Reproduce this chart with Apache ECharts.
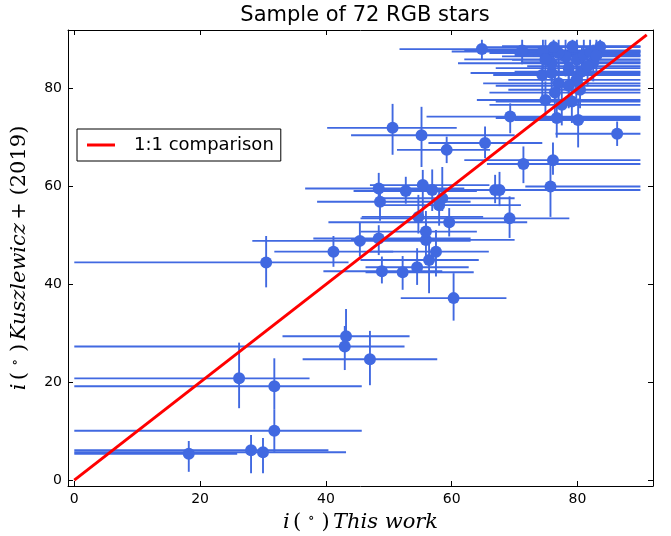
<!DOCTYPE html>
<html>
<head>
<meta charset="utf-8">
<script src="https://cdn.jsdelivr.net/npm/echarts@6/dist/echarts.min.js"></script>
<style>html,body{margin:0;padding:0;background:#fff}#c{width:671px;height:536px}</style>
</head>
<body>
<div id="c"></div>
<script>
// Inclination from this work (x) vs Kuszlewicz+ (2019) (y), degrees
const xVals = [18.2,28.1,30.0,31.8,31.8,26.2,43.0,43.2,47.0,30.5,41.2,60.3,48.9,52.2,54.5,56.4,57.5,45.4,48.4,55.9,55.9,54.7,59.6,48.6,48.4,52.7,55.4,56.9,58.5,58.0,50.6,55.2,59.2,65.3,66.9,67.6,69.2,71.4,76.1,75.7,86.3,69.3,76.7,80.1,64.8,71.2,74.5,83.6,74.9,77.5,79.1,80.4,77.0,74.4,75.9,80.7,75.9,78.1,79.9,81.0,77.0,76.2,78.6,82.0,82.5,79.2,79.8,81.6,74.9,76.4,78.6,83.0];
const yVals = [5.4,6.1,5.7,10.1,19.2,20.8,27.3,29.4,24.7,44.5,46.7,37.2,42.7,42.5,43.5,45.0,46.7,48.9,49.4,49.1,50.8,53.8,52.7,56.9,59.6,59.1,60.3,59.3,57.6,56.2,72.0,70.5,67.5,68.9,59.3,59.3,53.5,64.6,65.4,60.0,70.8,74.3,74.0,73.6,88.1,87.8,87.6,88.6,77.7,76.7,77.4,79.8,81.1,82.8,83.2,83.5,85.2,86.6,85.9,86.9,87.3,88.5,84.2,87.6,85.4,88.7,81.8,84.6,86.0,79.2,80.6,86.8];
const xLow  = [0,0,0,0,0,0,0,33.1,36.3,0,31.8,51.9,39.6,46.3,46.3,45.5,47.0,28.3,38.0,44.0,45.5,45.7,40.4,38.6,36.7,44.4,47.0,48.0,49.0,48.0,40.2,44.0,51.3,56.3,55.0,58.0,45.5,65.6,62.0,71.7,76.5,56.0,67.0,70.0,51.7,62.0,60.0,74.0,64.0,66.0,67.0,69.0,65.0,66.6,63.0,70.0,61.0,68.0,69.6,70.0,66.0,64.0,67.0,72.0,71.0,68.0,69.0,72.0,62.0,66.0,67.0,73.0];
const xHigh = [25.9,40.4,43.2,45.7,45.7,37.4,52.5,53.3,57.7,43.6,50.7,68.7,58.5,63.5,62.7,64.3,65.9,63.0,63.0,70.0,64.0,65.0,72.0,63.0,62.0,64.0,66.0,68.0,70.0,71.0,60.8,70.0,66.1,74.4,80.0,90,78.7,90,90,90,90,90,90,90,77.0,90,90,90,90,90,90,90,90,90,90,90,90,90,90,90,90,90,90,90,90,90,90,90,90,90,90,90];
const yLow  = [1.7,1.4,1.4,5.8,14.5,14.7,22.5,27.0,19.4,39.4,43.6,32.6,40.2,38.9,39.9,38.2,41.6,45.7,46.0,45.4,48.0,50.4,49.8,53.0,56.6,56.5,53.8,55.0,55.0,52.0,66.5,64.0,64.8,65.8,56.6,56.0,49.5,60.7,62.4,53.8,68.3,70.9,70.0,68.0,86.0,85.0,84.0,87.0,74.0,72.5,73.0,76.0,77.0,78.0,79.0,79.5,81.0,82.5,82.0,83.0,83.5,85.5,80.0,84.0,81.5,86.0,78.0,80.5,82.0,75.0,76.0,83.0];
const yHigh = [8.0,9.2,8.6,14.5,24.9,28.1,31.5,35.0,30.5,49.9,49.9,42.3,45.7,45.8,47.4,48.4,51.1,52.6,52.1,52.8,55.0,58.3,55.6,60.5,62.8,62.0,63.4,63.5,64.0,59.0,76.9,76.3,70.2,72.3,62.4,63.0,58.0,68.2,69.0,66.1,73.3,77.0,78.0,78.0,90,90,90,90,81.5,80.5,82.0,84.0,85.0,88.0,88.0,88.5,89.5,90,90,90,90,90,88.0,90,89.0,90,86.0,88.5,90,83.0,85.0,90];
const lineX = [0, 91];
const lineY = [0, 91];
const tickVals = [0, 20, 40, 60, 80];

const blue = '#4169E1';
const errData = xVals.map((x, i) => [x, yVals[i], xLow[i], xHigh[i], yLow[i], yHigh[i]]);
const ptData = xVals.map((x, i) => [x, yVals[i]]);
const lineData = lineX.map((x, i) => [x, lineY[i]]);

const serif = 'DejaVu Serif';
const rich = {
  it: {fontFamily: serif, fontStyle: 'italic', fontSize: 21, color: '#000'},
  up: {fontFamily: serif, fontSize: 21, color: '#000'},
  sup: {fontFamily: serif, fontSize: 14, color: '#000', verticalAlign: 'top', padding: [0, 0, 9, 0]}
};

const chart = echarts.init(document.getElementById('c'), null, {renderer: 'canvas'});
const axCommon = {
  type: 'value',
  axisLine: {show: true, onZero: false, lineStyle: {color: '#000', width: 1}},
  splitLine: {show: false}
};
chart.setOption({
  animation: false,
  backgroundColor: '#fff',
  title: {
    text: 'Sample of 72 RGB stars',
    left: 360, top: 0, textAlign: 'center',
    textStyle: {fontFamily: 'DejaVu Sans', fontSize: 21, fontWeight: 'normal', color: '#000'}
  },
  legend: {
    data: [{name: '1:1 comparison', icon: 'rect'}],
    left: 77, top: 129,
    orient: 'vertical',
    borderColor: '#000', borderWidth: 1, borderRadius: 0,
    padding: [7, 7, 7, 10],
    itemWidth: 28, itemHeight: 3,
    itemStyle: {color: '#ff0000'},
    textStyle: {fontFamily: 'DejaVu Sans', fontSize: 18, color: '#000', padding: [0, 0, 0, 14]}
  },
  grid: {left: 68, right: 18, top: 30, bottom: 50, outerBoundsMode: 'none', containLabel: false},
  xAxis: [
    Object.assign({}, axCommon, {
      min: -1, max: 92, position: 'bottom',
      axisTick: {show: true, inside: true, length: 5, customValues: tickVals, lineStyle: {color: '#000'}},
      axisLabel: {show: true, customValues: tickVals, fontFamily: 'DejaVu Sans', fontSize: 14, color: '#000', margin: 6},
      name: '{it|i} {up|( }{sup|∘}{up| )} {it|This work}',
      nameLocation: 'middle', nameGap: 25,
      nameTextStyle: {rich: rich}
    }),
    Object.assign({}, axCommon, {
      min: -1, max: 92, position: 'top',
      axisTick: {show: true, inside: true, length: 5, customValues: tickVals, lineStyle: {color: '#000'}},
      axisLabel: {show: false}
    })
  ],
  yAxis: [
    Object.assign({}, axCommon, {
      min: -1.2, max: 92, position: 'left',
      axisTick: {show: true, inside: true, length: 5, customValues: tickVals, lineStyle: {color: '#000'}},
      axisLabel: {show: true, customValues: tickVals, fontFamily: 'DejaVu Sans', fontSize: 14, color: '#000', margin: 6},
      name: '{it|i} {up|( }{sup|∘}{up| )} {it|Kuszlewicz} {up|+ (2019)}',
      nameLocation: 'middle', nameGap: 37,
      nameTextStyle: {rich: rich}
    }),
    Object.assign({}, axCommon, {
      min: -1.2, max: 92, position: 'right',
      axisTick: {show: true, inside: true, length: 5, customValues: tickVals, lineStyle: {color: '#000'}},
      axisLabel: {show: false}
    })
  ],
  series: [
    {
      type: 'custom',
      name: 'errors',
      xAxisIndex: 0, yAxisIndex: 0,
      data: errData,
      encode: {x: [0, 2, 3], y: [1, 4, 5]},
      z: 2,
      renderItem: function (params, api) {
        const x = api.value(0), y = api.value(1);
        const a = api.coord([api.value(2), y]);
        const b = api.coord([api.value(3), y]);
        const c = api.coord([x, api.value(4)]);
        const d = api.coord([x, api.value(5)]);
        const st = {stroke: blue, lineWidth: 1.9};
        return {
          type: 'group',
          children: [
            {type: 'line', shape: {x1: a[0], y1: a[1], x2: b[0], y2: b[1]}, style: st},
            {type: 'line', shape: {x1: c[0], y1: c[1], x2: d[0], y2: d[1]}, style: st}
          ]
        };
      }
    },
    {
      type: 'scatter',
      name: 'stars',
      xAxisIndex: 0, yAxisIndex: 0,
      data: ptData,
      symbol: 'circle', symbolSize: 12,
      itemStyle: {color: blue, opacity: 1},
      z: 3
    },
    {
      type: 'line',
      name: '1:1 comparison',
      xAxisIndex: 0, yAxisIndex: 0,
      data: lineData,
      symbol: 'none',
      lineStyle: {color: '#ff0000', width: 3},
      itemStyle: {color: '#ff0000'},
      z: 5
    }
  ]
});
</script>
</body>
</html>
